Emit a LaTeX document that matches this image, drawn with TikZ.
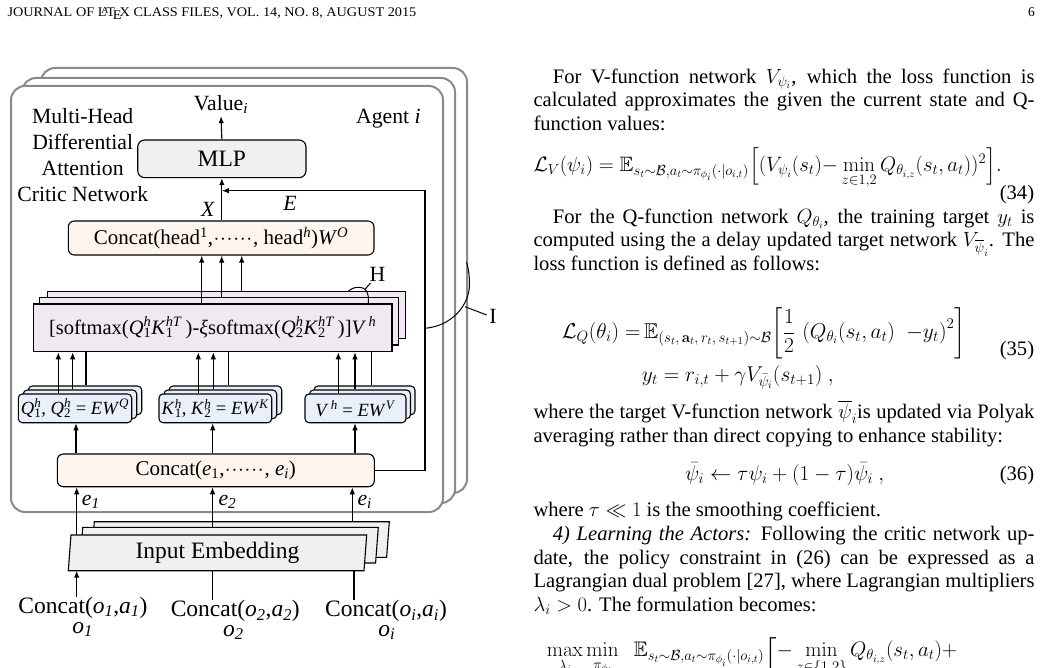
\RequirePackage{fix-cm}
\documentclass[tikz,border=0pt]{standalone}
\usepackage{amsmath,amssymb}
\usepackage[no-math]{fontspec}
\setmainfont{Liberation Serif}
\usetikzlibrary{arrows.meta,calc}
\definecolor{framegray}{RGB}{138,138,138}
\definecolor{mlpfill}{RGB}{240,240,240}
\definecolor{peach}{RGB}{253,245,238}
\definecolor{lav}{RGB}{240,233,242}
\definecolor{qblue}{RGB}{234,240,250}
\definecolor{embfill}{RGB}{240,240,240}
\newcommand\fs{\fontsize{20.6}{23.7}\selectfont}
\newcommand\fm[1]{\fontsize{#1}{23.7}\selectfont}
\newcommand\df{\fontsize{23.5}{26.1}\selectfont}
\newcommand\dfl{\fontsize{21.7}{26.1}\selectfont}
\newcommand\dfs{\fontsize{21}{26}\selectfont}
\newcommand\dfm{\fontsize{20.5}{24}\selectfont}
\newcommand\dfq{\fontsize{18.6}{22}\selectfont}
\newcommand\JL[1]{\makebox[501pt][s]{#1}\par}
\newcommand\cdd[1]{\makebox[#1]{\leaders\hbox to 6.6pt{\hss$\cdot$\hss}\hfill}}
\newcommand\SupSub[2]{\setbox0=\hbox{\textsuperscript{#1}}\setbox2=\hbox{\textsubscript{#2}}\ifdim\wd0>\wd2\relax\rlap{\box2}\box0\else\rlap{\box0}\box2\fi}
\begin{document}
\begin{tikzpicture}[x=1pt,y=-1pt,
  frame/.style={draw=framegray,line width=2pt,rounded corners=14pt,fill=white},
  bx/.style={draw=black,line width=1.1pt,inner sep=0pt},
  qk/.style={bx,rounded corners=4pt,fill=qblue,minimum height=28.7pt},
  arr/.style={line width=1.1pt,-{Latex[length=7pt,width=5.5pt]}},
  ln/.style={line width=1.1pt},
  lbl/.style={inner sep=0pt,font=\df},
  sl/.style={inner sep=0pt,font=\dfl},
  body/.style={inner sep=0pt,anchor=base west,font=\fs},
]
\useasboundingbox (0,0) rectangle (1048,668);
\clip (0,0) rectangle (1048,668);
\fill[white] (0,0) rectangle (1048,668);

% ---------- header ----------
\node[anchor=base west,inner sep=0,font=\fontsize{13.2}{16}\selectfont] (hdr) at (7.3,16.5) {\scalebox{1.08}[1]{JOURNAL OF \LaTeX\ CLASS FILES, VOL. 14, NO. 8, AUGUST 2015}};
\node[anchor=base east,inner sep=0,font=\fontsize{13.5}{16}\selectfont] (pg) at (1035,16.2) {6};

% ---------- agent frames ----------
\draw[frame] (41,68) rectangle (467,493);
\draw[frame] (22,78) rectangle (455,503);
\draw[frame] (11,86) rectangle (443,512);

% ---------- labels in frame ----------
\node[sl,anchor=base,inner sep=2pt] (val) at (221,110.7) {Value\textsubscript{\textit{i}}};
\node[sl,anchor=base] (mh1) at (82.7,123.3) {Multi-Head};
\node[sl,anchor=base] (mh2) at (82.7,149.6) {Differential};
\node[sl,anchor=base] (mh3) at (82.7,175.8) {Attention};
\node[sl,anchor=base] (mh4) at (82.7,201.7) {Critic Network};
\node[sl,anchor=base west] (agent) at (356,123.3) {Agent \textit{i}};

% ---------- boxes ----------
\node[bx,rounded corners=7pt,fill=mlpfill,minimum width=168.3pt,minimum height=37.7pt,font=\df] (mlp) at (221.85,158.85) {MLP};
\node[bx,rounded corners=6pt,fill=peach,minimum width=305.7pt,minimum height=34pt,font=\dfs] (ch) at (221.15,238) {Concat(head\textsuperscript{1},\cdd{40pt}, head\textsuperscript{\textit{h}})\textit{W}\textsuperscript{\textit{O}}};

\node[bx,fill=lav,minimum width=358.6pt,minimum height=47.2pt] (sm3) at (226.5,315) {};
\node[bx,fill=lav,minimum width=358.6pt,minimum height=47.2pt] (sm2) at (218.8,321.4) {};
\node[bx,fill=lav,minimum width=358.6pt,minimum height=47.7pt,font=\dfm] (sm1) at (212.65,327.85) {[softmax(\textit{Q}\SupSub{\textit{h}}{1}\textit{K}\SupSub{\textit{hT}}{1}\,)-\textit{ξ}softmax(\textit{Q}\SupSub{\textit{h}}{2}\textit{K}\SupSub{\textit{hT}}{2}\,)]\textit{V}\textsuperscript{\,\textit{h}}};

\node[qk,minimum width=113.4pt] (Q3) at (85,400.35) {};
\node[qk,minimum width=113.4pt] (Q2) at (80,404.35) {};
\node[qk,minimum width=113.4pt,font=\dfq] (Q1) at (75,408.35) {\textit{Q}\SupSub{\textit{h}}{1}, \textit{Q}\SupSub{\textit{h}}{2}\ =\ \textit{EW}\textsuperscript{\textit{Q}}};
\node[qk,minimum width=112.7pt] (K3) at (225.35,400.35) {};
\node[qk,minimum width=112.7pt] (K2) at (220.35,404.35) {};
\node[qk,minimum width=112.7pt,font=\dfq] (K1) at (215.35,408.35) {\textit{K}\SupSub{\textit{h}}{1}, \textit{K}\SupSub{\textit{h}}{2}\ =\ \textit{EW}\textsuperscript{\textit{K}}};
\node[qk,minimum width=101pt] (V3) at (364.5,400.35) {};
\node[qk,minimum width=101pt] (V2) at (360,404.35) {};
\node[qk,minimum width=101pt,font=\dfq] (V1) at (355.5,408.35) {\textit{V}\textsuperscript{\,\textit{h}}\ =\ \textit{EW}\textsuperscript{\textit{V}}};

\node[bx,rounded corners=6pt,fill=peach,minimum width=317pt,minimum height=32.7pt,font=\dfs] (ce) at (215.8,470.35) {Concat(\textit{e}\textsubscript{1},\cdd{40pt}, \textit{e}\textsubscript{\textit{i}})};

% input embedding stack
\draw[ln,fill=embfill] (94.3,521.7) -- (389.3,521.7) -- (386.6,557.4) -- (91.6,557.4) -- cycle;
\draw[ln,fill=embfill] (82.7,527.3) -- (378.3,527.3) -- (375.6,563) -- (80,563) -- cycle;
\draw[ln,fill=embfill] (71,535) -- (366.7,535) -- (364,570.7) -- (68.3,570.7) -- cycle;
\node[lbl] (ie) at (217.5,552.4) {Input Embedding};
\coordinate (ie1t) at (76.7,535);
\coordinate (ie2t) at (212.5,527.3);
\coordinate (ie3t) at (352.3,521.7);
\coordinate (ie1b) at (76.7,570.7);
\coordinate (ie2b) at (212.3,570.7);
\coordinate (ie3b) at (354,570.7);

% bottom labels
\node[lbl,anchor=base] (c1) at (83,613.3) {Concat(\textit{o}\textsubscript{\textit{1}},\textit{a}\textsubscript{\textit{1}})};
\node[lbl,anchor=base] (o1) at (82.7,633.3) {\textit{o}\textsubscript{\textit{1}}};
\node[lbl,anchor=base] (c2) at (235.3,616.7) {Concat(\textit{o}\textsubscript{\textit{2}},\textit{a}\textsubscript{\textit{2}})};
\node[lbl,anchor=base] (o2) at (233.3,636) {\textit{o}\textsubscript{\textit{2}}};
\node[lbl,anchor=base] (c3) at (386,616.7) {Concat(\textit{o}\textsubscript{\textit{i}},\textit{a}\textsubscript{\textit{i}})};
\node[lbl,anchor=base] (o3) at (386.7,636) {\textit{o}\textsubscript{\textit{i}}};

% e labels
\node[sl,anchor=base west] (e1) at (81.7,505) {\textit{e}\textsubscript{\textit{1}}};
\node[sl,anchor=base west] (e2) at (218.3,505) {\textit{e}\textsubscript{\textit{2}}};
\node[sl,anchor=base west] (ei) at (357.3,505) {\textit{e}\textsubscript{\textit{i}}};

% X, E, H, I labels
\node[sl,anchor=base] (xl) at (208,216.7) {\textit{X}};
\node[sl,anchor=base] (el) at (290,210.7) {\textit{E}};
\node[sl,anchor=base] (hl) at (377.5,281.7) {H};
\node[sl,anchor=base] (il) at (493,323.3) {I};

% ---------- connectors ----------
\draw[arr] (mlp.north) -- (val.south);
\draw[arr] (mlp.south |- ch.north) -- (mlp.south);
\coordinate (eR) at (425,470.35);
\coordinate (eT) at (425,190.7);
\draw[arr] (ce.east) -- (eR) -- (eT) -- (mlp.south |- eT);

\draw[arr] ([xshift=-19.45pt]ch.south |- sm1.north) -- ([xshift=-19.45pt]ch.south);
\draw[arr] ([xshift=0.55pt]ch.south |- sm2.north) -- ([xshift=0.55pt]ch.south);
\draw[arr] ([xshift=20.55pt]ch.south |- sm3.north) -- ([xshift=20.55pt]ch.south);

\draw[arr] ([xshift=-16.7pt]Q1.north) -- ([xshift=-16.7pt]Q1.north |- sm1.south);
\draw[arr] ([xshift=-7.3pt]Q2.north) -- ([xshift=-7.3pt]Q2.north |- sm1.south);
\draw[ln]  ([xshift=1pt]Q3.north) -- ([xshift=1pt]Q3.north |- sm1.south);
\draw[arr] ([xshift=-17.05pt]K1.north) -- ([xshift=-17.05pt]K1.north |- sm1.south);
\draw[arr] ([xshift=-7.05pt]K2.north) -- ([xshift=-7.05pt]K2.north |- sm1.south);
\draw[ln]  ([xshift=2.95pt]K3.north) -- ([xshift=2.95pt]K3.north |- sm1.south);
\draw[arr] ([xshift=-17.2pt]V1.north) -- ([xshift=-17.2pt]V1.north |- sm1.south);
\draw[arr] ([xshift=-5pt]V2.north) -- ([xshift=-5pt]V2.north |- sm1.south);
\draw[ln]  ([xshift=7.2pt]V3.north) -- ([xshift=7.2pt]V3.north |- sm1.south);

\draw[arr] ([xshift=1pt]Q1.south |- ce.north) -- ([xshift=1pt]Q1.south);
\draw[arr] ([xshift=-2.65pt]K1.south |- ce.north) -- ([xshift=-2.65pt]K1.south);
\draw[arr] ([xshift=-0.5pt]V1.south |- ce.north) -- ([xshift=-0.5pt]V1.south);

\draw[arr] (ie1t) -- (ie1t |- ce.south);
\draw[arr] (ie2t) -- (ie2t |- ce.south);
\draw[arr] (ie3t) -- (ie3t |- ce.south);

\draw[arr] (c1.north -| ie1b) -- (ie1b);
\draw[ln] (c2.north -| ie2b) -- (ie2b);
\draw[ln] (c3.north -| ie3b) -- (ie3b);

% H brace and I brace
\draw[line width=1pt] (348,291.7) .. controls (352,286.5) and (364,285) .. (367,292) .. controls (368.6,296) .. (368.2,305);
\draw[line width=1pt] (365,289.3) -- (370.5,283);
\draw[line width=1pt] (425,328.3) .. controls (452,326) and (470,305) .. (469.5,283) .. controls (469.3,274) and (468.3,268) .. (466.5,262);
\draw[line width=1pt] (465,306.7) -- (486.7,315);

% ---------- right column text ----------
\node[body] (p1) at (533.3,83.3) {\parbox[t]{501pt}{\fs
\JL{\hspace*{19.4pt}For V-function network $V_{\psi_i}$, which the loss function is}
\JL{calculated approximates the given the current state and Q-}
function values:}};

\node[body] (eq34) at (533.3,171.7) {\fm{20.8}$\displaystyle \mathcal{L}_V(\psi_i) = \mathbb{E}_{s_t\sim\mathcal{B},a_t\sim\pi_{\phi_i}(\cdot|o_{i,t})}\Big[(V_{\psi_i}(s_t){-}\min_{z\in 1,2}Q_{\theta_{i,z}}(s_t,a_t))^2\Big].$};
\node[body,anchor=base east] (n34) at (1034.3,199.3) {(34)};

\node[body] (p2) at (533.3,223.3) {\parbox[t]{501pt}{\fs
\JL{\hspace*{19.4pt}For the Q-function network $Q_{\theta_i}$, the training target $y_t$ is}
\JL{computed using the a delay updated target network $V_{\overline{\psi}_i}$. The}
loss function is defined as follows:}};

\node[body] (eq35a) at (561.7,338.3) {\fm{21.4}$\displaystyle \mathcal{L}_Q(\theta_i)\;{=}\,\mathbb{E}_{(s_t,\,\mathbf{a}_t,\,r_t,\,s_{t+1})\sim\mathcal{B}}\biggl[\frac{1}{2}\,\left(Q_{\theta_i}(s_t,a_t)\;\ {-}y_t\right)^2\biggr]$};
\node[body] (eq35b) at (641.7,381.7) {\fm{21.4}$\displaystyle y_t = r_{i,t} + \gamma V_{\bar{\psi}_i}(s_{t+1})\ ,$};
\node[body,anchor=base east] (n35) at (1034.3,355) {(35)};

\node[body] (p3) at (533.3,418.3) {\parbox[t]{501pt}{\fs
\JL{where the target V-function network $\overline{\psi}_i$is updated via Polyak}
averaging rather than direct copying to enhance stability:}};

\node[body] (eq36) at (685,480) {\fm{21.2}$\displaystyle \bar{\psi}_i \leftarrow \tau\psi_i + (1-\tau)\bar{\psi}_i\ ,$};
\node[body,anchor=base east] (n36) at (1034.3,480) {(36)};

\node[body] (p4) at (533.3,516.7) {\parbox[t]{501pt}{\fs
where $\tau \ll 1$ is the smoothing coefficient.\par
\JL{\hspace*{19.4pt}\textit{4) Learning the Actors:} Following the critic network up-}
\JL{date, the policy constraint in (26) can be expressed as a}
\JL{Lagrangian dual problem [27], where Lagrangian multipliers}
$\lambda_i > 0$. The formulation becomes:}};

\node[body] (eq37) at (546.7,656.7) {\fm{21}$\displaystyle \max_{\lambda_i}\min_{\pi_{\phi_i}}\;\;\mathbb{E}_{s_t\sim\mathcal{B},a_t\sim\pi_{\phi_i}(\cdot|o_{i,t})}\mathopen{\raisebox{-18pt}{$\Bigg[$}}-\min_{z\in\{1,2\}}Q_{\theta_{i,z}}(s_t,a_t)+$};
\end{tikzpicture}
\end{document}
